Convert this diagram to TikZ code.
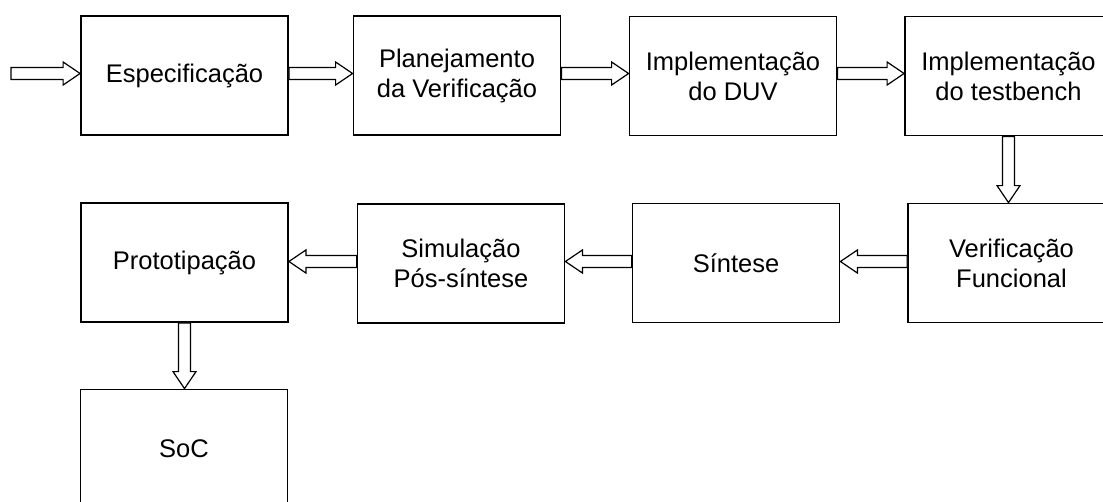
\documentclass[tikz,border=0pt]{standalone}
\usepackage{fontspec}
\setmainfont{Liberation Sans}
\usetikzlibrary{calc}
\tikzset{
  box/.style={draw, line width=1.8pt, minimum width=207pt, minimum height=119pt,
    align=center, inner sep=0pt, font=\fontsize{25.5}{30}\selectfont},
  barrow/.style={draw, line width=1.2pt, fill=white, line join=miter},
}
\newcommand\blockarrow[2]{%
  \path (#2) coordinate (ba-t) (#1) coordinate (ba-s);
  \path ($(ba-t)!17pt!(ba-s)$) coordinate (ba-h);
  \draw[barrow] ($(ba-s)!6pt!90:(ba-t)$) -- ($(ba-h)!6pt!-90:(ba-s)$)
    -- ($(ba-h)!11.5pt!-90:(ba-s)$) -- (ba-t) -- ($(ba-h)!11.5pt!90:(ba-s)$)
    -- ($(ba-h)!6pt!90:(ba-s)$) -- ($(ba-s)!6pt!-90:(ba-t)$) -- cycle;
}
\begin{document}
\begin{tikzpicture}[x=1pt, y=-1pt]
  \useasboundingbox[fill=white] (0,0) rectangle (1103,501);
  \node[box] (b1) at (184.5,75.5) {Especificação};
  \node[box] (b2) at (457,75.5) {Planejamento\\da Verificação};
  \node[box] (b3) at (733,76) {Implementação\\do DUV};
  \node[box] (b4) at (1008.5,76) {Implementação\\do testbench};
  \node[box] (vf) at (1011.5,263) {Verificação\\Funcional};
  \node[box] (sin) at (736,263) {Síntese};
  \node[box] (sim) at (461,263.5) {Simulação\\Pós-síntese};
  \node[box] (pro) at (184.5,262.5) {Prototipação};
  \node[box] (soc) at (184,449) {SoC};
  \coordinate (in) at (11,73.5);
  \blockarrow{in}{$(b1.west)+(0,-2)$}
  \blockarrow{$(b1.east)+(0,-2)$}{$(b2.west)+(0,-2)$}
  \blockarrow{$(b2.east)+(0,-2)$}{$(b3.west)+(0,-2.5)$}
  \blockarrow{$(b3.east)+(0,-2.5)$}{$(b4.west)+(0,-2.5)$}
  \blockarrow{b4.south}{b4.south |- vf.north}
  \blockarrow{$(vf.west)+(0,-1.5)$}{$(sin.east)+(0,-1.5)$}
  \blockarrow{$(sin.west)+(0,-1.5)$}{$(sim.east)+(0,-2)$}
  \blockarrow{$(sim.west)+(0,-2)$}{$(pro.east)+(0,-1)$}
  \blockarrow{pro.south}{pro.south |- soc.north}
\end{tikzpicture}
\end{document}
